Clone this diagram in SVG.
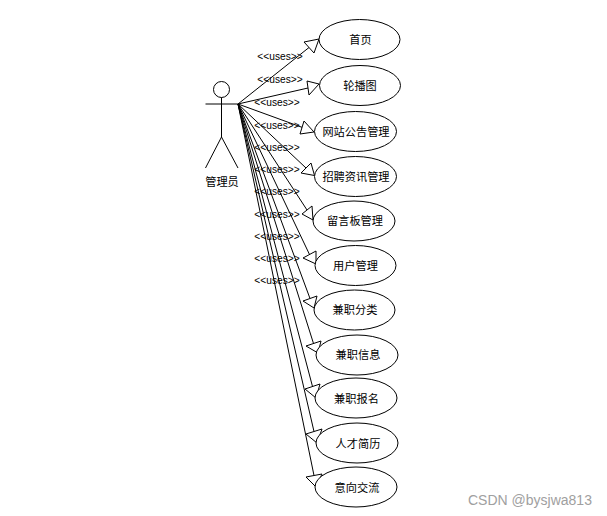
<svg xmlns="http://www.w3.org/2000/svg" width="607" height="516" viewBox="0 0 607 516">
<style>
.n{fill:#fff;stroke:#000;stroke-width:1}
.s{fill:none;stroke:#000;stroke-width:1}
.c{fill:none;stroke:#000;stroke-width:1}
.h{fill:#fff;stroke:#000;stroke-width:1}
.t{font-family:"Noto Sans CJK SC","Liberation Sans",sans-serif;font-size:11.2px;fill:#000;text-anchor:middle}
.u{font-family:"Liberation Sans",Arial,sans-serif;font-size:10.2px;fill:#000;text-anchor:middle}
.w{font-family:"Liberation Sans",Arial,sans-serif;font-size:14px;fill:#a0a0a0}
</style>
<rect width="607" height="516" fill="#fff"/>
<g id="connectors">
<path class="c" d="M238 104L309 47.500M238 104L308 88M238 104L302 127.300M238 104L306 168M238 104L307 210M238 104L309.500 254.500M238 104L310 298.500M238 104L313.500 343.500M238 104L312.500 386.500M238 104L314 431.500M238 104L314 475.500"/>
<polygon class="h" points="319,39 304,42 314,53"/>
<polygon class="h" points="319,84 307,81 309,95"/>
<polygon class="h" points="314,132 304,121 300,134"/>
<polygon class="h" points="314.500,175.500 311,163 301,173"/>
<polygon class="h" points="313,220 312,206 302,214"/>
<polygon class="h" points="316,264 316,251 303,258"/>
<polygon class="h" points="314,308 317,296 303,301"/>
<polygon class="h" points="318,353 321,341 306,346"/>
<polygon class="h" points="316,398 320,384 305,389"/>
<polygon class="h" points="317,443 322,429 306,434"/>
<polygon class="h" points="316,487 322,474 306,477"/>
<text class="u" x="280" y="60">&lt;&lt;uses&gt;&gt;</text>
<text class="u" x="280" y="83">&lt;&lt;uses&gt;&gt;</text>
<text class="u" x="277" y="106">&lt;&lt;uses&gt;&gt;</text>
<text class="u" x="277" y="129">&lt;&lt;uses&gt;&gt;</text>
<text class="u" x="277" y="151">&lt;&lt;uses&gt;&gt;</text>
<text class="u" x="277" y="173">&lt;&lt;uses&gt;&gt;</text>
<text class="u" x="277" y="195">&lt;&lt;uses&gt;&gt;</text>
<text class="u" x="277" y="218">&lt;&lt;uses&gt;&gt;</text>
<text class="u" x="277" y="240">&lt;&lt;uses&gt;&gt;</text>
<text class="u" x="277" y="262">&lt;&lt;uses&gt;&gt;</text>
<text class="u" x="277" y="284">&lt;&lt;uses&gt;&gt;</text>
</g>
<g id="actor">
<circle class="n" cx="221.500" cy="89.500" r="8"/>
<path class="s" d="M221.500 97.500V137M205.500 104H238M221.500 137L205.500 168M221.500 137L238 168"/>
<text class="t" x="222" y="186">管理员</text>
</g>
<g id="n1"><ellipse class="n" cx="359.500" cy="39.500" rx="40.500" ry="20"/><text class="t" x="360.500" y="44">首页</text></g>
<g id="n2"><ellipse class="n" cx="360" cy="85.500" rx="40.500" ry="20"/><text class="t" x="360" y="90">轮播图</text></g>
<g id="n3"><ellipse class="n" cx="355.500" cy="131.500" rx="41" ry="20"/><text class="t" x="356" y="136">网站公告管理</text></g>
<g id="n4"><ellipse class="n" cx="355.500" cy="176.500" rx="41" ry="20"/><text class="t" x="356" y="181">招聘资讯管理</text></g>
<g id="n5"><ellipse class="n" cx="354" cy="221" rx="41" ry="20"/><text class="t" x="355" y="225">留言板管理</text></g>
<g id="n6"><ellipse class="n" cx="355.500" cy="265.500" rx="40.500" ry="20"/><text class="t" x="355.500" y="270">用户管理</text></g>
<g id="n7"><ellipse class="n" cx="354.500" cy="310" rx="40.500" ry="20"/><text class="t" x="355" y="314">兼职分类</text></g>
<g id="n8"><ellipse class="n" cx="357" cy="355" rx="41" ry="20"/><text class="t" x="358" y="359">兼职信息</text></g>
<g id="n9"><ellipse class="n" cx="356" cy="398" rx="41" ry="20"/><text class="t" x="356.500" y="403">兼职报名</text></g>
<g id="n10"><ellipse class="n" cx="357" cy="443" rx="41" ry="20"/><text class="t" x="358" y="448">人才简历</text></g>
<g id="n11"><ellipse class="n" cx="356" cy="487" rx="41" ry="20"/><text class="t" x="357" y="492">意向交流</text></g>
<text class="w" x="468" y="505">CSDN @bysjwa813</text>
</svg>
